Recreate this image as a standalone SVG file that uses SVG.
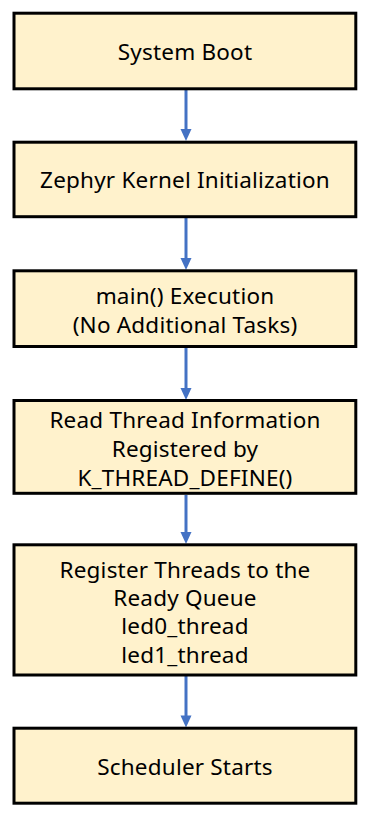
<svg xmlns="http://www.w3.org/2000/svg" width="369" height="817" viewBox="0 0 369 817">
<style>
.box{fill:#FFF2CC;stroke:#000;stroke-width:3}
.t{font-family:"Noto Sans","Open Sans",sans-serif;font-size:22.5px;letter-spacing:0.2px;fill:#000;text-anchor:middle}
.c{stroke:#4472C4;stroke-width:3;fill:none}
.h{fill:#4472C4}
</style>
<rect width="369" height="817" fill="#fff"/>
<g id="connectors">
<line class="c" x1="186" y1="90" x2="186" y2="130"/><polygon class="h" points="180.5,129 191.5,129 186,141"/>
<line class="c" x1="186" y1="218" x2="186" y2="258"/><polygon class="h" points="180.5,258 191.5,258 186,270"/>
<line class="c" x1="186" y1="348" x2="186" y2="388"/><polygon class="h" points="180.5,388 191.5,388 186,400"/>
<line class="c" x1="186" y1="495" x2="186" y2="533"/><polygon class="h" points="180.5,532 191.5,532 186,544"/>
<line class="c" x1="186" y1="676" x2="186" y2="716"/><polygon class="h" points="180.5,715.5 191.5,715.5 186,727.5"/>
</g>
<g id="n1"><rect class="box" x="14" y="13.2" width="341.8" height="75.6"/><text class="t" x="185" y="60">System Boot</text></g>
<g id="n2"><rect class="box" x="14" y="142.2" width="341.8" height="74.5"/><text class="t" x="185" y="188">Zephyr Kernel Initialization</text></g>
<g id="n3"><rect class="box" x="14" y="270.8" width="341.8" height="75.7"/><text class="t" x="185" y="304">main() Execution</text><text class="t" x="185" y="332.5">(No Additional Tasks)</text></g>
<g id="n4"><rect class="box" x="14" y="400.5" width="341.8" height="92.8"/><text class="t" x="185" y="428">Read Thread Information</text><text class="t" x="185" y="457">Registered by</text><text class="t" x="185" y="486">K_THREAD_DEFINE()</text></g>
<g id="n5"><rect class="box" x="14" y="544.8" width="341.8" height="130.2"/><text class="t" x="185" y="577.5">Register Threads to the</text><text class="t" x="185" y="605.5">Ready Queue</text><text class="t" x="185" y="634">led0_thread</text><text class="t" x="185" y="662.5">led1_thread</text></g>
<g id="n6"><rect class="box" x="14" y="728.2" width="341.8" height="75"/><text class="t" x="185" y="775">Scheduler Starts</text></g>
</svg>
